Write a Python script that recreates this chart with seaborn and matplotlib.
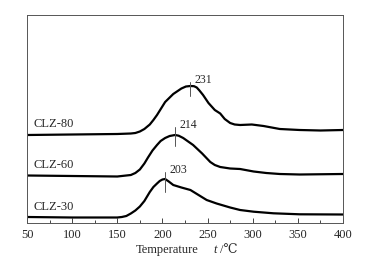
import pandas as pd
import matplotlib
matplotlib.use("Agg")
import matplotlib.pyplot as plt
import seaborn as sns

# curves (relative signal, arbitrary units)
t80 = [50, 100, 150, 165, 170, 175, 180, 186, 190, 194, 203, 212, 221, 226, 231, 235, 238, 241, 245, 251, 258, 264, 269, 275, 280, 286, 299, 312, 330, 352, 375, 400]
s80 = [88, 88.5, 89, 89.5, 90, 91.5, 94, 98.5, 103, 108, 121, 129, 134.5, 136.5, 137, 136.8, 135.5, 132.5, 128, 120, 113, 109.5, 104, 100, 98.5, 98, 98.5, 97, 94, 93, 92.5, 93]

t60 = [50, 100, 150, 165, 170, 175, 180, 184, 189, 194, 198, 203, 208, 214, 218, 223, 234, 244, 253, 258, 264, 275, 286, 301, 315, 330, 352, 400]
s60 = [47.5, 47, 46.5, 48, 50, 53.5, 59.5, 65.5, 72.5, 78, 82, 85, 87, 88, 87.3, 85, 78, 69.5, 61, 58, 56, 54.5, 54, 51.5, 50, 49, 48.5, 49]

t30 = [50, 100, 150, 155, 160, 165, 170, 175, 180, 186, 190, 194, 197, 200, 203, 207, 212, 221, 231, 240, 249, 260, 275, 286, 301, 323, 352, 400]
s30 = [6, 5.5, 5.5, 6, 7, 9.5, 12.5, 16.5, 22, 31, 36, 39.5, 42, 43.5, 44, 41.5, 38, 35.5, 33, 28, 23, 19.5, 15.5, 13, 11.3, 9.7, 8.7, 8.5]

names = ["CLZ-80", "CLZ-60", "CLZ-30"]
peaks = [231, 214, 203]
tick_lo = [127, 77, 31]
tick_hi = [141, 96, 51]
name_y = [99, 58, 16]

frames = []
for n, t, s in zip(names, [t80, t60, t30], [s80, s60, s30]):
    frames.append(pd.DataFrame({"t": t, "s": s, "sample": n}))
data = pd.concat(frames)

sns.set_style("ticks")
plt.rcParams["font.family"] = ["Liberation Serif", "DejaVu Serif"]

fig, ax = plt.subplots(figsize=(3.7, 2.68), dpi=100)
fig.subplots_adjust(left=27/370, right=343/370, top=1-15/268, bottom=1-223/268)

sns.lineplot(data=data, x="t", y="s", hue="sample", palette=["black"] * 3,
             linewidth=1.6, legend=False, ax=ax)

for n, p, lo, hi, ny in zip(names, peaks, tick_lo, tick_hi, name_y):
    ax.plot([p, p], [lo, hi], color="#555555", lw=0.7)
    ax.text(p + 5, hi - 1, str(p), fontsize=8.5, ha="left", va="baseline")
    ax.text(57.5, ny, n, fontsize=9, ha="left", va="center")

ax.set_xlim(50, 400)
ax.set_ylim(0, 208)
ax.set_xticks(range(50, 401, 50))
ax.set_xticks(range(75, 400, 50), minor=True)
ax.set_yticks([])
ax.tick_params(axis="x", direction="in", length=3.5, width=0.6, labelsize=9, pad=4)
ax.tick_params(axis="x", which="minor", direction="in", length=2.5, width=0.6)
for sp in ax.spines.values():
    sp.set_linewidth(0.7)
    sp.set_color("#555555")
ax.set_xlabel("")
ax.set_ylabel("")

# axis title: Temperature  t /℃  (t in italics)
fig.text(167/370, 1-250/268, "Temperature", fontsize=9, ha="center", va="center")
fig.text(215/370, 1-250/268, "t", fontsize=9, style="italic", ha="center", va="center")
fig.text(220/370, 1-250/268, "/℃", fontsize=9, ha="left", va="center")

fig.savefig("out.png", dpi=100)
